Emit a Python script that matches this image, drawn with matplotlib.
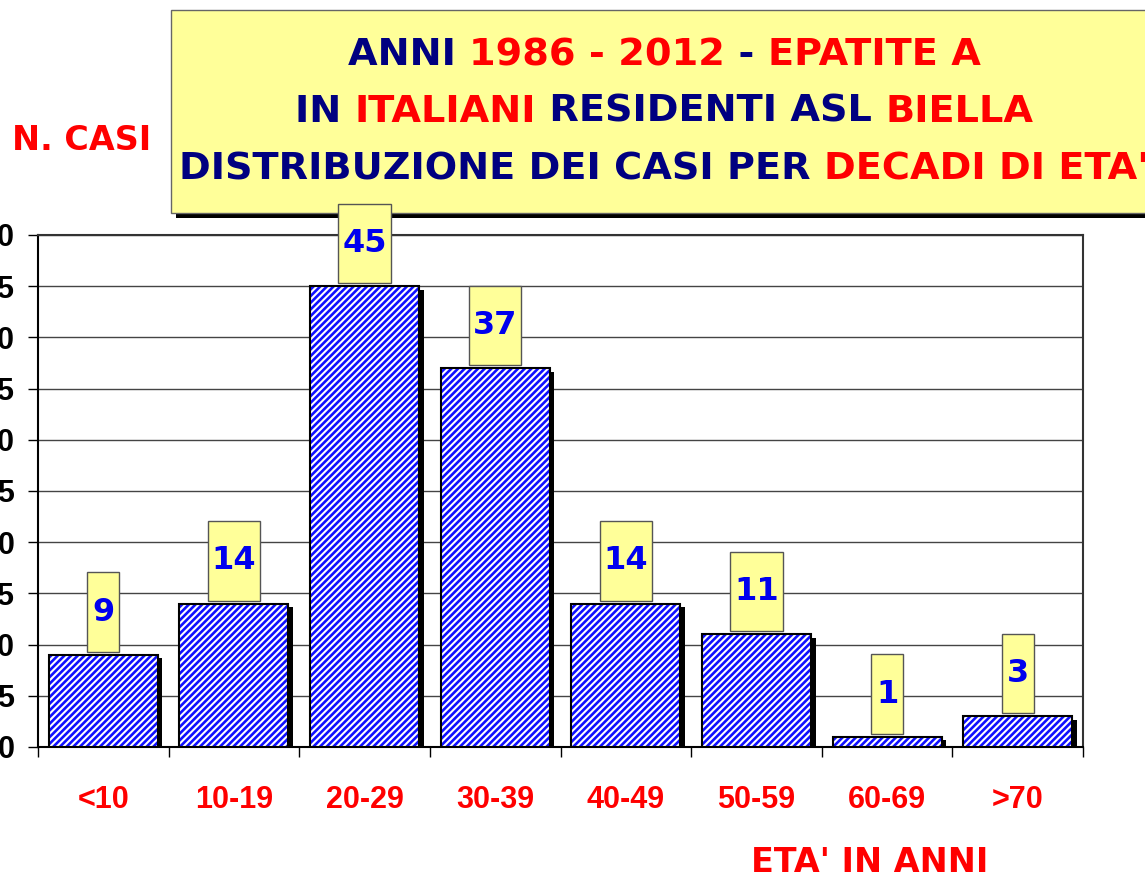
import matplotlib
matplotlib.use("Agg")
import matplotlib.pyplot as plt
from matplotlib.patches import Rectangle
import numpy as np

categories = ["<10", "10-19", "20-29", "30-39", "40-49", "50-59", "60-69", ">70"]
cases = [9, 14, 45, 37, 14, 11, 1, 3]

title_lines = [
    [("ANNI ", "navy"), ("1986 - 2012", "red"), (" - ", "navy"), ("EPATITE A", "red")],
    [("IN ", "navy"), ("ITALIANI", "red"), (" RESIDENTI ASL ", "navy"), ("BIELLA", "red")],
    [("DISTRIBUZIONE DEI CASI PER ", "navy"), ("DECADI DI ETA'", "red")],
]

YELLOW = "#ffff99"
HATCH_BLUE = "#1010ff"
TITLE_FONT = "DejaVu Sans"
TICK_FONT = "Liberation Sans"

plt.rcParams["hatch.linewidth"] = 1.9

W, H = 1145, 874
fig = plt.figure(figsize=(W / 100, H / 100), dpi=100)
ax = fig.add_axes([38 / W, 1 - 747 / H, (1083 - 38) / W, (747 - 235) / H])

x = np.arange(len(categories))
vals = np.array(cases)
bw = 0.835

# shadows, hatched bars, outlines
ax.bar(x + 0.035, vals - 0.35, width=bw, color="black", linewidth=0, zorder=2)
ax.bar(x, vals, width=bw, color="white", edgecolor=HATCH_BLUE, hatch="/////",
       linewidth=0, zorder=3)
ax.bar(x, vals, width=bw, fill=False, edgecolor="black", linewidth=1.5, zorder=4)

# value boxes
for xi, v in zip(x, vals):
    txt = str(v)
    bwid = 0.245 if len(txt) == 1 else 0.40
    r = Rectangle((xi - bwid / 2, v + 0.3), bwid, 7.75, facecolor=YELLOW,
                  edgecolor="#555555", linewidth=1.0, zorder=6, clip_on=False)
    ax.add_patch(r)
    ax.text(xi, v + 0.3 + 7.75 / 2, txt, ha="center", va="center", color="#0000ee",
            fontsize=23, fontweight="bold", family=TITLE_FONT, zorder=7, clip_on=False)

ax.set_xlim(-0.5, len(categories) - 0.5)
ax.set_ylim(0, 50)
ax.set_yticks(np.arange(0, 51, 5))
ax.yaxis.grid(True, color="#444444", linewidth=1.0)
ax.set_axisbelow(True)
ax.tick_params(axis="y", length=7, width=1, pad=10, labelsize=22)
for lab in ax.get_yticklabels():
    lab.set_fontweight("bold")
    lab.set_family(TICK_FONT)

ax.set_xticks(x)
ax.set_xticklabels(categories, color="red", fontsize=22, fontweight="bold", family=TICK_FONT)
ax.tick_params(axis="x", which="major", length=0, pad=27)
ax.set_xticks(np.arange(-0.5, len(categories), 1.0), minor=True)
ax.tick_params(axis="x", which="minor", length=7, width=1, color="black")

for side in ["top", "right"]:
    ax.spines[side].set_color("#333333")
    ax.spines[side].set_linewidth(1.5)
ax.spines["left"].set_linewidth(1.5)
ax.spines["bottom"].set_linewidth(1.5)

# title box with shadow
fig.patches.append(Rectangle((176 / W, 1 - 218 / H), 1000 / W, 203 / H, facecolor="black",
                             linewidth=0, transform=fig.transFigure, zorder=-2))
fig.patches.append(Rectangle((171 / W, 1 - 213 / H), 1000 / W, 203 / H, facecolor=YELLOW,
                             edgecolor="#666666", linewidth=1.0, transform=fig.transFigure,
                             zorder=-1))

fig.text(12 / W, 1 - 140 / H, "N. CASI", color="red", fontsize=24, fontweight="bold",
         family=TITLE_FONT, ha="left", va="center")
fig.text(870 / W, 1 - 862 / H, "ETA' IN ANNI", color="red", fontsize=24, fontweight="bold",
         family=TITLE_FONT, ha="center", va="center")

# multi-coloured title lines
renderer = fig.canvas.get_renderer()


def text_width(s, size):
    t = fig.text(0, 0, s + "|", fontsize=size, fontweight="bold", family=TITLE_FONT)
    w = t.get_window_extent(renderer).width
    t.remove()
    t = fig.text(0, 0, "|", fontsize=size, fontweight="bold", family=TITLE_FONT)
    w -= t.get_window_extent(renderer).width
    t.remove()
    return w


full2 = "".join(s for s, _ in title_lines[1])
tsize = 24 * 742 / text_width(full2, 24)

line_y = [55, 112, 170]
centre_x = 664
for segs, yy in zip(title_lines, line_y):
    full = "".join(s for s, _ in segs)
    total = text_width(full, tsize)
    start = centre_x - total / 2
    prefix = ""
    for s, c in segs:
        xx = start + text_width(prefix, tsize) if prefix else start
        fig.text(xx / W, 1 - yy / H, s, color=c, fontsize=tsize, fontweight="bold",
                 family=TITLE_FONT, ha="left", va="center")
        prefix += s

fig.savefig("out.png", dpi=100)
